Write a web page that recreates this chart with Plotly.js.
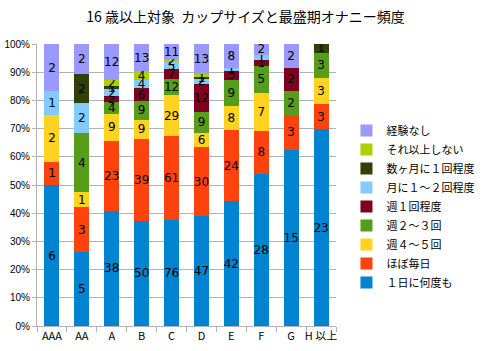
<!DOCTYPE html>
<html><head><meta charset="utf-8">
<script src="https://cdn.plot.ly/plotly-3.0.1.min.js"></script>
<style>html,body{margin:0;padding:0;background:#fff}#c{width:491px;height:351px}</style>
</head><body><div id="c"></div>
<script>
const categories = ['AAA','AA','A','B','C','D','E','F','G','H 以上'];
const seriesNames = ['１日に何度も','ほぼ毎日','週４～５回','週２～３回','週１回程度','月に１～２回程度','数ヶ月に１回程度','それ以上しない','経験なし'];
const nanido   = [6, 5, 38, 50, 76, 47, 42, 28, 15, 23];
const hobomai  = [1, 3, 23, 39, 61, 30, 24, 8, 3, 3];
const shu45    = [2, 1, 9, 9, 29, 6, 8, 7, 0, 3];
const shu23    = [0, 4, 4, 9, 12, 9, 9, 5, 2, 3];
const shu1     = [0, 0, 2, 6, 7, 12, 3, 1, 2, 0];
const tsuki12  = [1, 2, 2, 4, 5, 2, 1, 1, 0, 0];
const sukagetsu= [0, 2, 1, 0, 0, 1, 0, 0, 0, 1];
const soreijo  = [0, 0, 2, 4, 2, 1, 0, 0, 0, 0];
const keiken   = [2, 2, 12, 13, 11, 13, 8, 2, 2, 0];
const series = [nanido, hobomai, shu45, shu23, shu1, tsuki12, sukagetsu, soreijo, keiken];
const colors = ['#0084d1','#ff420e','#ffd320','#579d1c','#7e0021','#83caff','#314004','#aecf00','#9999ff'];
const yTicks = [0,10,20,30,40,50,60,70,80,90,100];

const traces = series.map((vals, i) => ({
  type: 'bar',
  name: seriesNames[i],
  x: categories,
  y: vals,
  text: vals.map(v => v === 0 ? '' : String(v)),
  textposition: 'inside',
  insidetextanchor: 'middle',
  textangle: 0,
  constraintext: 'none',
  textfont: {family: 'DejaVu Sans, sans-serif', size: 12, color: '#000'},
  marker: {color: colors[i], line: {width: 0}},
  hoverinfo: 'skip'
}));

const layout = {
  width: 491, height: 351,
  margin: {l: 36.5, r: 124.5, t: 44, b: 25, pad: 0},
  barmode: 'stack',
  barnorm: 'percent',
  bargap: 0.5,
  paper_bgcolor: '#fff', plot_bgcolor: '#fff',
  title: {text: '16 歳以上対象  カップサイズと最盛期オナニー頻度', x: 0.5, xanchor: 'center', y: 0.95, yanchor: 'middle',
          font: {family: 'Noto Sans CJK JP, sans-serif', size: 14, color: '#000'}},
  xaxis: {
    type: 'category',
    showgrid: false,
    showline: true, linecolor: '#b3b3b3', linewidth: 1,
    ticks: 'outside', tickson: 'boundaries', ticklen: 5, tickcolor: '#b3b3b3',
    tickangle: 0,
    tickfont: {family: 'Noto Sans CJK JP, sans-serif', size: 11, color: '#000'},
    fixedrange: true
  },
  yaxis: {
    range: [0, 100],
    tickvals: yTicks,
    ticktext: yTicks.map(v => v + '%'),
    showgrid: true, gridcolor: '#b3b3b3', gridwidth: 1,
    showline: true, linecolor: '#b3b3b3', linewidth: 1,
    ticks: 'outside', ticklen: 4, tickcolor: '#b3b3b3',
    zeroline: false,
    tickfont: {family: 'Liberation Sans, Arial, sans-serif', size: 10, color: '#000'},
    fixedrange: true
  },
  legend: {
    x: 1.035, xanchor: 'left', y: 0.745, yanchor: 'top',
    traceorder: 'reversed',
    font: {family: 'Noto Sans CJK JP, sans-serif', size: 11, color: '#000'},
    itemwidth: 30, tracegroupgap: 0,
    bgcolor: 'rgba(0,0,0,0)'
  },
  showlegend: true
};

Plotly.newPlot('c', traces, layout, {staticPlot: true, displayModeBar: false});
</script>
</body></html>
